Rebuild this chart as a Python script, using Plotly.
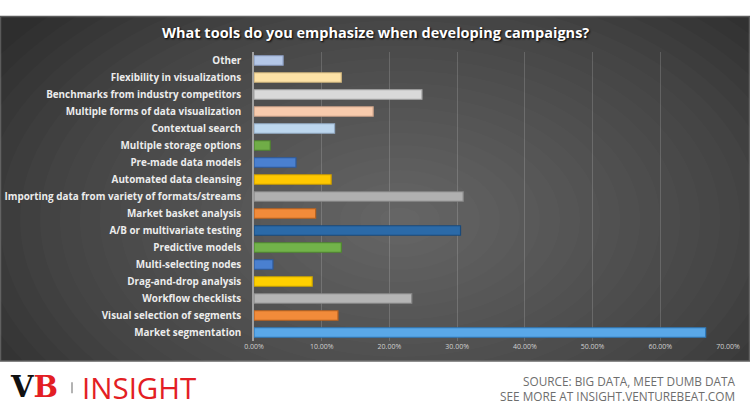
import plotly.graph_objects as go

W, H = 750, 412
ML, MR, MT, MB = 254, 22, 51.5, 70.5
PW, PH = W - ML - MR, H - MT - MB

categories = [
    "Other",
    "Flexibility in visualizations",
    "Benchmarks from industry competitors",
    "Multiple forms of data visualization",
    "Contextual search",
    "Multiple storage options",
    "Pre-made data models",
    "Automated data cleansing",
    "Importing data from variety of formats/streams",
    "Market basket analysis",
    "A/B or multivariate testing",
    "Predictive models",
    "Multi-selecting nodes",
    "Drag-and-drop analysis",
    "Workflow checklists",
    "Visual selection of segments",
    "Market segmentation",
]
values = [0.043, 0.129, 0.248, 0.176, 0.119, 0.024, 0.062, 0.114, 0.309, 0.091,
          0.305, 0.129, 0.028, 0.086, 0.233, 0.124, 0.667]
bar_colors = ["#b4c7e7", "#fde2a6", "#d9d9d9", "#f8cbad", "#bdd7ee", "#70ad47",
              "#4a80d0", "#ffc800", "#b0b0b0", "#f28b3a", "#2b6aa8", "#72b34a",
              "#4a80d0", "#ffd000", "#b5b5b5", "#f28b3a", "#5aa8e8"]
line_colors = ["#8a9cc0", "#c9b07a", "#a8a8a8", "#c89f86", "#92aac4", "#4e8031",
               "#2d5a9c", "#c99a00", "#858585", "#b8621f", "#1a4a7a", "#4f8630",
               "#2d5a9c", "#c9a300", "#888888", "#b8621f", "#2f78b8"]
source_lines = ["SOURCE: BIG DATA, MEET DUMB DATA", "SEE MORE AT INSIGHT.VENTUREBEAT.COM"]

def px(x):
    return (x - ML) / PW

def py(y):
    return (H - MB - y) / PH

fig = go.Figure()
fig.add_trace(go.Bar(
    x=values, y=categories, orientation="h",
    marker=dict(color=bar_colors, line=dict(color=line_colors, width=1.2)),
    hoverinfo="skip",
))

shapes = []
# dark panel
shapes.append(dict(type="rect", xref="paper", yref="paper", layer="below",
                   x0=px(0.5), x1=px(749.5), y0=py(16), y1=py(361.5),
                   fillcolor="#2e2e2e", line=dict(color="#5a5a5a", width=1.5)))
# radial glow approximation
cx, cy = 400, 220
N = 24
for i in range(N):
    f = 1 - i / N
    rx = 480 * f
    ry = 300 * f
    shapes.append(dict(type="circle", xref="paper", yref="paper", layer="below",
                       x0=px(cx - rx), x1=px(cx + rx), y0=py(cy + ry), y1=py(cy - ry),
                       fillcolor="rgba(255,255,255,0.016)", line=dict(width=0)))
# footer separator
shapes.append(dict(type="line", xref="paper", yref="paper",
                   x0=px(72), x1=px(72), y0=py(383), y1=py(394),
                   line=dict(color="#9a9a9a", width=1.5)))

annotations = [
    dict(text="What tools do you emphasize when developing campaigns?",
         xref="paper", yref="paper", x=px(375), y=py(32), showarrow=False,
         xanchor="center", yanchor="middle",
         font=dict(family="Open Sans", size=14.5, color="white", weight="bold",
                   shadow="1px 1px 2px #000")),
    dict(text="V<span style='color:#e31e24'>B</span>",
         xref="paper", yref="paper", x=px(8), y=py(388), showarrow=False,
         xanchor="left", yanchor="middle",
         font=dict(family="DejaVu Serif", size=29, color="#111111", weight="bold")),
    dict(text="INSIGHT",
         xref="paper", yref="paper", x=px(80), y=py(388), showarrow=False,
         xanchor="left", yanchor="middle",
         font=dict(family="Open Sans", size=29.5, color="#e31e24")),
    dict(text="<br>".join(source_lines),
         xref="paper", yref="paper", x=px(738), y=py(389), showarrow=False,
         xanchor="right", yanchor="middle", align="right",
         font=dict(family="Open Sans", size=11.8, color="#6d6d6d")),
]

fig.update_layout(
    width=W, height=H,
    margin=dict(l=ML, r=MR, t=MT, b=MB, pad=0, autoexpand=False),
    paper_bgcolor="white", plot_bgcolor="rgba(0,0,0,0)",
    showlegend=False, bargap=0.44,
    shapes=shapes, annotations=annotations,
    xaxis=dict(range=[0, 0.7], dtick=0.1, tickformat=".2%", automargin=False,
               showgrid=True, gridcolor="rgba(255,255,255,0.16)", gridwidth=1,
               zeroline=False, showline=False, ticks="",
               tickfont=dict(family="Open Sans", size=7, color="#d0d0d0"),
               fixedrange=True),
    yaxis=dict(autorange="reversed", showgrid=False, zeroline=False, automargin=False,
               showline=True, linecolor="#a0a0a0", linewidth=1.5,
               ticks="", ticklabelstandoff=9,
               tickfont=dict(family="Open Sans", size=9.9, color="#ececec", weight="bold"),
               fixedrange=True),
)

fig.write_html("out.html", config={"displayModeBar": False},
               post_script="document.body.style.margin='0';document.body.style.overflow='hidden';")
